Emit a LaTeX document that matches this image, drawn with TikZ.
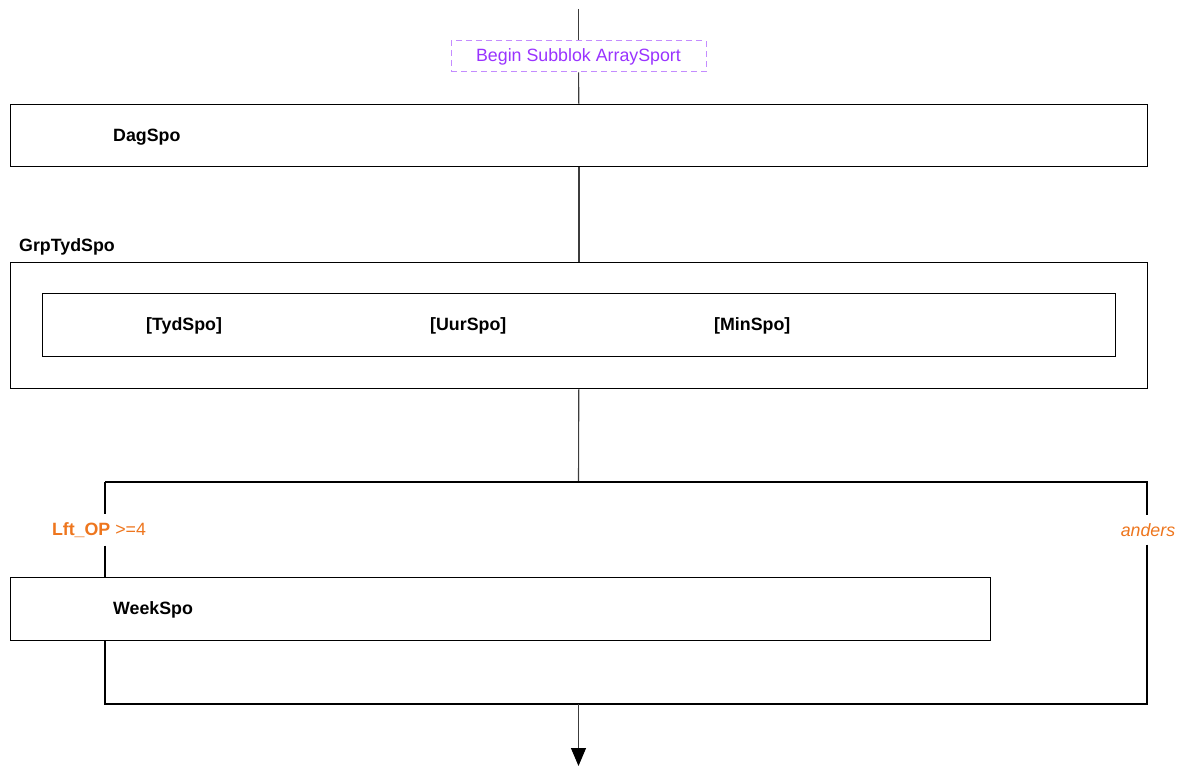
\documentclass[tikz,border=0pt]{standalone}
\usepackage{fontspec}
\setmainfont{Liberation Sans}
\usetikzlibrary{arrows.meta,positioning}
\definecolor{paars}{RGB}{153,51,255}
\definecolor{paarsrand}{RGB}{196,140,255}
\definecolor{oranje}{RGB}{238,118,30}
\definecolor{lijngrijs}{RGB}{60,60,60}
\tikzset{
	vak/.style={draw=black,line width=1pt,anchor=north west,inner sep=0pt},
	vaktekst/.style={anchor=west,inner sep=0pt,font=\tekst\bfseries},
	lijn/.style={draw=lijngrijs,line width=1.1pt},
	tak/.style={draw=black,line width=1.1pt},
	voorw/.style={fill=white,text=oranje,inner xsep=2pt,inner ysep=8pt,font=\tekst},
}
\newcommand{\tekst}{\fontsize{17.8}{21}\selectfont}
\begin{document}
\begin{tikzpicture}[x=1pt,y=-1pt,line cap=butt]
	\useasboundingbox (0,0) rectangle (1184,767);
	
	% begin subblok
	\coordinate (top) at (578.5,9);
	\node[draw=paarsrand,dashed,dash pattern=on 6pt off 4pt,line width=1pt,text=paars,font=\tekst,minimum width=255pt,minimum height=31pt,inner sep=0pt] (begin) at (578.5,56.5) {\raisebox{-1.5pt}{Begin Subblok ArraySport}};
	
	% dagspo
	\node[vak,minimum width=1137pt,minimum height=62pt] (dag) at (10,104) {};
	\node[vaktekst] (dagtxt) at (113,137) {DagSpo};
	
	% groep tyd
	\node[anchor=west,inner sep=0pt,font=\tekst\bfseries] (grptxt) at (19,247) {GrpTydSpo};
	\node[vak,minimum width=1137pt,minimum height=126pt] (grp) at (10,262) {};
	\node[vak,minimum width=1073pt,minimum height=63pt] (grpin) at (42,293) {};
	\node[vaktekst] (tyd) at (146,326) {[TydSpo]};
	\node[vaktekst] (uur) at (430,326) {[UurSpo]};
	\node[vaktekst] (min) at (714,326) {[MinSpo]};
	
	% weekspo
	\node[vak,minimum width=980pt,minimum height=63pt] (week) at (10,577) {};
	\node[vaktekst] (weektxt) at (113,610) {WeekSpo};
	
	% vertakking
	\coordinate (takin) at (578.5,482);
	\coordinate (lb) at (105,482);
	\coordinate (rb) at (1147,482);
	\coordinate (lo) at (105,704);
	\coordinate (ro) at (1147,704);
	\coordinate (takuit) at (578.5,704);
	\coordinate (eind) at (578.5,766);
	\node[voorw] (cond) at (99,530) {\textbf{Lft\_OP} >=4};
	\node[voorw] (anders) at (1148,530) {\itshape anders};
	
	% verbindingen
	\draw[lijn] (top) -- (begin);
	\draw[lijn] (begin) -- (dag);
	\draw[lijn] (dag) -- (grp);
	\draw[lijn] (grp) -- (takin);
	\draw[tak] (lb) -- (rb) -- (rb |- anders.north);
	\draw[tak] (rb |- anders.south) -- (ro) -- (lo) -- (lo |- week.south);
	\draw[tak] (lb) -- (lb |- cond.north);
	\draw[tak] (lb |- cond.south) -- (lb |- week.north);
	\draw[lijn,-{Triangle[length=18pt,width=15pt,color=black]}] (takuit) -- (eind);
\end{tikzpicture}
\end{document}
